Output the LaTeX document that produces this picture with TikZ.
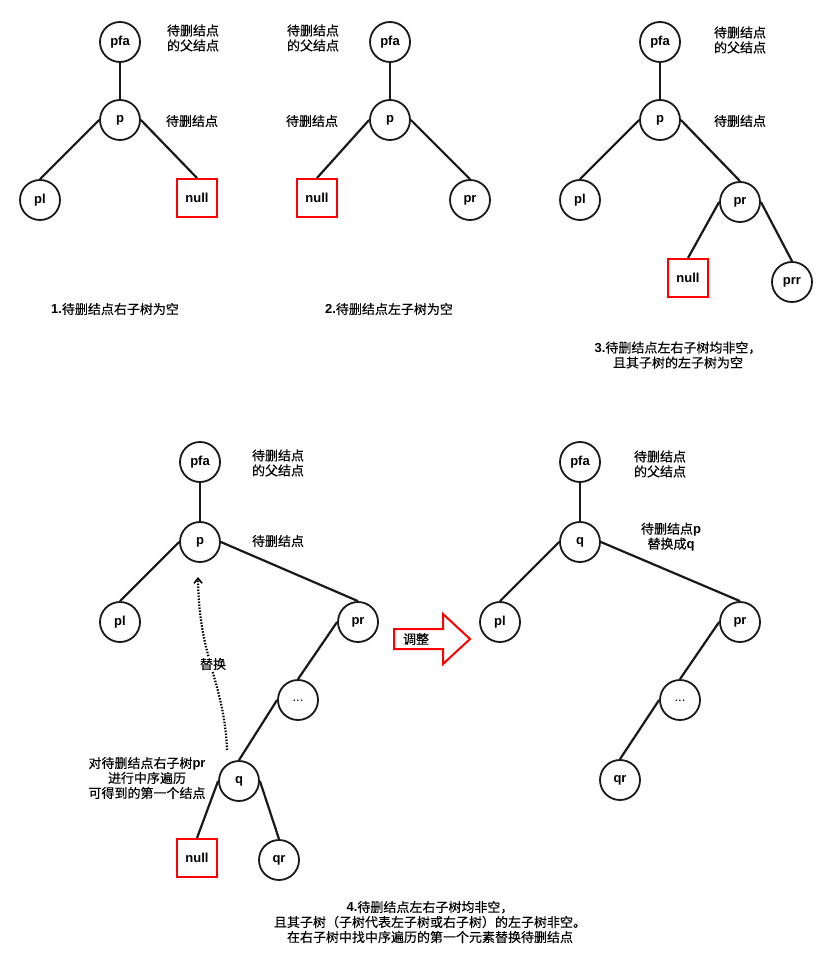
\documentclass[tikz,border=0pt]{standalone}
\usepackage{fontspec}
\setmainfont{Noto Sans CJK SC}[FakeBold=0.3]
\newfontfamily\latfont{Liberation Sans}
\usetikzlibrary{arrows.meta}
\newcommand{\lb}[1]{{\latfont\bfseries #1}}
\newcommand{\lowdots}{\raisebox{-3pt}{\latfont ...}}
\tikzset{
  every node/.style={font=\fontsize{13}{15}\selectfont},
  tnode/.style={circle, draw=black!90, line width=1.8pt, minimum size=40pt, inner sep=0pt, fill=white, yshift=0pt},
  nullbox/.style={draw=red, line width=2pt, minimum width=40pt, minimum height=38pt, inner sep=0pt, fill=white},
  edge/.style={draw=black!90, line width=2.2pt},
  note/.style={align=center, inner sep=0pt},
}
\begin{document}
\begin{tikzpicture}[x=1pt, y=-1pt]
\useasboundingbox (0,0) rectangle (832,965);

% ---- 1. right subtree empty ----
\node[tnode] (a-pfa) at (120,42) {\lb{pfa}};
\node[tnode] (a-p) at (120,120) {\lb{p}};
\node[tnode] (a-pl) at (40,200) {\lb{pl}};
\node[nullbox] (a-null) at (197,198) {\lb{null}};
\draw[edge] (a-pfa) -- (a-p);
\draw[edge] (a-p.west) -- (a-pl.north);
\draw[edge] (a-p.east) -- (a-null.north);
\node[note] (a-t1) at (193,38) {待删结点\\的父结点};
\node[note] (a-t2) at (192,121) {待删结点};
\node[note] (a-cap) at (115,309) {\lb{1.}待删结点右子树为空};

% ---- 2. left subtree empty ----
\node[tnode] (b-pfa) at (390,42) {\lb{pfa}};
\node[tnode] (b-p) at (390,120) {\lb{p}};
\node[nullbox] (b-null) at (317,198) {\lb{null}};
\node[tnode] (b-pr) at (470,200) {\lb{pr}};
\draw[edge] (b-pfa) -- (b-p);
\draw[edge] (b-p.west) -- (b-null.north);
\draw[edge] (b-p.east) -- (b-pr.north);
\node[note] (b-t1) at (313,38) {待删结点\\的父结点};
\node[note] (b-t2) at (312,121) {待删结点};
\node[note] (b-cap) at (389,309) {\lb{2.}待删结点左子树为空};

% ---- 3. both non-empty, left subtree of child empty ----
\node[tnode] (c-pfa) at (660,42) {\lb{pfa}};
\node[tnode] (c-p) at (660,120) {\lb{p}};
\node[tnode] (c-pl) at (580,200) {\lb{pl}};
\node[tnode] (c-pr) at (740,202) {\lb{pr}};
\node[nullbox] (c-null) at (688,278) {\lb{null}};
\node[tnode] (c-prr) at (792,282) {\lb{prr}};
\draw[edge] (c-pfa) -- (c-p);
\draw[edge] (c-p.west) -- (c-pl.north);
\draw[edge] (c-p.east) -- (c-pr.north);
\draw[edge] (c-pr.west) -- (c-null.north);
\draw[edge] (c-pr.east) -- (c-prr.north);
\node[note] (c-t1) at (740,40) {待删结点\\的父结点};
\node[note] (c-t2) at (740,121) {待删结点};
\node[note] (c-cap) at (678,355) {\lb{3.}待删结点左右子树均非空，\\且其子树的左子树为空};

% ---- 4. before adjustment ----
\node[tnode] (d-pfa) at (200,462) {\lb{pfa}};
\node[tnode] (d-p) at (200,542) {\lb{p}};
\node[tnode] (d-pl) at (120,622) {\lb{pl}};
\node[tnode] (d-pr) at (358,622) {\lb{pr}};
\node[tnode] (d-dots) at (298,700) {\lowdots};
\node[tnode] (d-q) at (239,781) {\lb{q}};
\node[nullbox] (d-null) at (197,858) {\lb{null}};
\node[tnode] (d-qr) at (279,860) {\lb{qr}};
\draw[edge] (d-pfa) -- (d-p);
\draw[edge] (d-p.west) -- (d-pl.north);
\draw[edge] (d-p.east) -- (d-pr.north);
\draw[edge] (d-pr.west) -- (d-dots.north);
\draw[edge] (d-dots.west) -- (d-q.north);
\draw[edge] (d-q.west) -- (d-null.north);
\draw[edge] (d-q.east) -- (d-qr.north);
\node[note] (d-t1) at (278,463) {待删结点\\的父结点};
\node[note] (d-t2) at (278,541) {待删结点};
\node[note] (d-t3) at (147,778) {对待删结点右子树\lb{pr}\\进行中序遍历\\可得到的第一个结点};

% replacement hint: dotted arrow from q up towards p
\coordinate (rep-from) at (227,750);
\coordinate (rep-to) at (198,577);
\draw[line width=2.2pt, dash pattern=on 1.5pt off 1.5pt, -{Straight Barb[length=5pt,width=8pt,line width=1.6pt]}]
  (rep-from) .. controls (224,680) and (199,660) .. (rep-to);
\node[fill=white, inner sep=1pt] (rep-lbl) at (213,664) {替换};

% ---- adjust arrow ----
\draw[draw=red, line width=2pt, fill=white, line join=miter]
  (394,629) -- (443,629) -- (443,614) -- (470,639) -- (443,664) -- (443,649) -- (394,649) -- cycle;
\node (adj) at (416,639) {调整};

% ---- 4. after adjustment ----
\node[tnode] (e-pfa) at (580,462) {\lb{pfa}};
\node[tnode] (e-q) at (580,542) {\lb{q}};
\node[tnode] (e-pl) at (500,622) {\lb{pl}};
\node[tnode] (e-pr) at (740,622) {\lb{pr}};
\node[tnode] (e-dots) at (680,700) {\lowdots};
\node[tnode] (e-qr) at (620,780) {\lb{qr}};
\draw[edge] (e-pfa) -- (e-q);
\draw[edge] (e-q.west) -- (e-pl.north);
\draw[edge] (e-q.east) -- (e-pr.north);
\draw[edge] (e-pr.west) -- (e-dots.north);
\draw[edge] (e-dots.west) -- (e-qr.north);
\node[note] (e-t1) at (660,464) {待删结点\\的父结点};
\node[note] (e-t2) at (671,537) {待删结点\lb{p}\\替换成\lb{q}};

\node[note] (d-cap) at (430,922) {\lb{4.}待删结点左右子树均非空，\\且其子树（子树代表左子树或右子树）的左子树非空。\\在右子树中找中序遍历的第一个元素替换待删结点};
\end{tikzpicture}
\end{document}
